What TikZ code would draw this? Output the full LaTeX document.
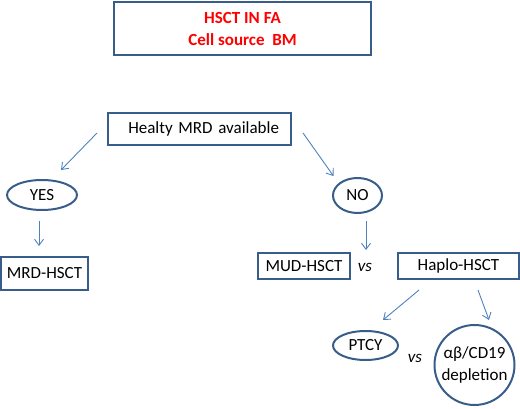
\documentclass[tikz,border=0pt]{standalone}
\usepackage{fontspec}
\setmainfont{Carlito}
\usepackage{xcolor}
\usetikzlibrary{arrows.meta,positioning,shapes.geometric,calc}

\definecolor{boxblue}{RGB}{56,93,138}
\definecolor{arrblue}{RGB}{79,129,189}
\definecolor{titlered}{RGB}{255,0,0}

\begin{document}
\begin{tikzpicture}[x=1pt,y=-1pt,
    box/.style={draw=boxblue,line width=2pt,rectangle,inner sep=0pt,font=\fontsize{17}{20}\selectfont},
    oval/.style={draw=boxblue,line width=2pt,ellipse,inner sep=0pt,font=\fontsize{17}{20}\selectfont},
    arr/.style={draw=arrblue,line width=0.9pt,-{Straight Barb[length=6pt,width=9pt]}},
    vstext/.style={font=\fontsize{17}{20}\selectfont\itshape}]
    \useasboundingbox (0,0) rectangle (520,409);

    % Title
    \node[box,minimum width=257,minimum height=53,align=center,text=titlered,
          font=\fontsize{17}{22}\selectfont\bfseries] (title) at (242.5,28.5)
          {HSCT IN FA\\Cell source\ \ BM};

    % Donor question
    \node[box,minimum width=183,minimum height=32,text width=159,align=right,inner xsep=12pt]
          (mrd) at (199.5,129) {Healty MRD available};
    \node[oval,minimum width=70,minimum height=30] (yes) at (42,195) {YES};
    \node[oval,minimum width=49,minimum height=35] (no) at (357.5,195.5) {NO};

    % Transplant options
    \node[box,minimum width=87,minimum height=33] (mrdhsct) at (44.5,273.5) {MRD-HSCT};
    \node[box,minimum width=92,minimum height=26] (mud) at (304,266) {MUD-HSCT};
    \node[vstext] (vsa) at (365,267) {vs};
    \node[box,minimum width=121,minimum height=26] (haplo) at (458.5,266) {Haplo-HSCT};

    % Haplo platforms
    \node[oval,minimum width=65,minimum height=29] (ptcy) at (365.5,345.5) {PTCY};
    \node[vstext] (vsb) at (415,358) {vs};
    \node[oval,circle,minimum size=80,align=center,font=\fontsize{17}{22}\selectfont]
          (ab) at (474.5,365) {αβ/CD19\\depletion};

    % Arrows
    \draw[arr] ([shift={(-10,4)}]mrd.west) -- ([shift={(19,-9)}]yes.north);
    \draw[arr] ([shift={(11,4)}]mrd.east) -- ([shift={(-24,-1)}]no.north);
    \draw[arr] ([shift={(-3,10)}]yes.south) -- ([shift={(-3,-10)}]yes.south |- mrdhsct.north);
    \draw[arr] ([shift={(8.5,7)}]no.south) -- ([shift={(8.5,-2)}]no.south |- mud.north);
    \draw[arr] ([shift={(-39.5,10)}]haplo.south) -- ([shift={(17.5,-10)}]ptcy.north);
    \draw[arr] ([shift={(19.5,10)}]haplo.south) -- ([shift={(14.5,-4)}]ab.north);
\end{tikzpicture}
\end{document}
